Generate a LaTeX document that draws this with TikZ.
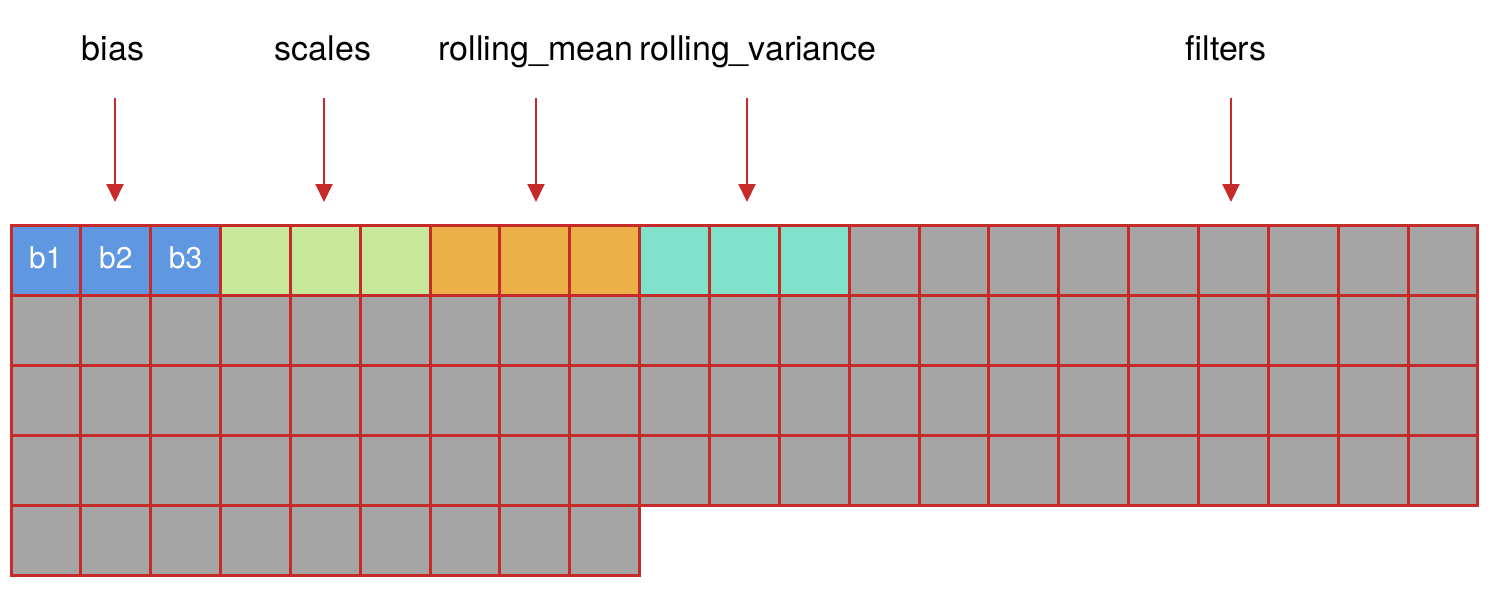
\documentclass[tikz,border=0pt]{standalone}
\usepackage{fontspec}
\setmainfont{TeX Gyre Heros}
\usetikzlibrary{arrows.meta, positioning}

\definecolor{gridred}{HTML}{C62B29}
\definecolor{biasblue}{HTML}{5F98E1}
\definecolor{scalegreen}{HTML}{C8E99C}
\definecolor{meanorange}{HTML}{ECB049}
\definecolor{varteal}{HTML}{80E2CB}
\definecolor{cellgray}{HTML}{A5A5A5}

\begin{document}
\begin{tikzpicture}[x=1pt, y=-1pt, >={Triangle[width=17pt, length=18pt]},
    cell/.style={draw=gridred, line width=3pt, fill=cellgray,
                 minimum width=69.85pt, minimum height=70pt, inner sep=0pt,
                 outer sep=0pt, anchor=north west, text=white,
                 font=\fontsize{30}{36}\selectfont},
    lbl/.style={anchor=base, inner sep=0pt, font=\fontsize{34}{40}\selectfont},
    ptr/.style={->, draw=gridred, line width=2pt}]
  \useasboundingbox (0,0) rectangle (1492,592);

  % first row: the coloured parameters, then filters
  \foreach \c/\col/\t in {0/biasblue/b1, 1/biasblue/b2, 2/biasblue/b3,
                          3/scalegreen/, 4/scalegreen/, 5/scalegreen/,
                          6/meanorange/, 7/meanorange/, 8/meanorange/,
                          9/varteal/, 10/varteal/, 11/varteal/}
    \node[cell, fill=\col] (c0-\c) at ({11+69.85*\c}, 225) {\raisebox{4pt}{\t}};
  \foreach \c in {12,...,20}
    \node[cell] (c0-\c) at ({11+69.85*\c}, 225) {};

  % remaining filter rows
  \foreach \r in {1,2,3}
    \foreach \c in {0,...,20}
      \node[cell] (c\r-\c) at ({11+69.85*\c}, {225+70*\r}) {};
  \foreach \c in {0,...,8}
    \node[cell] (c4-\c) at ({11+69.85*\c}, 505) {};

  % labels
  \node[lbl] (bias)  at (113, 60) {bias};
  \node[lbl] (scale) at (323, 60) {scales};
  \node[lbl] (mean)  at (536, 60) {rolling\_mean};
  \node[lbl] (var)   at (758, 60) {rolling\_variance};
  \node[lbl] (filt)  at (1226, 60) {filters};

  % pointers
  \foreach \n/\x in {bias/115, scale/324, mean/536, var/747, filt/1231} {
    \coordinate (\n-s) at (\x, 98);
    \coordinate (\n-e) at (\x, 202);
    \draw[ptr] (\n-s) -- (\n-e);
  }
\end{tikzpicture}
\end{document}
